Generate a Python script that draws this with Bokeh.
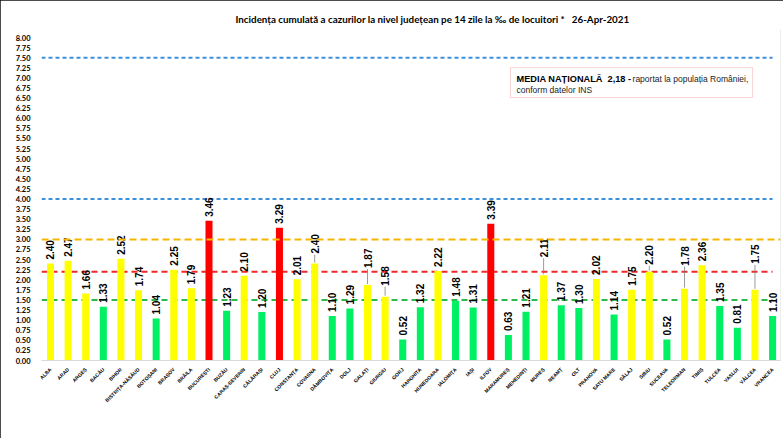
import math
from bokeh.plotting import figure
from bokeh.models import Range1d, FixedTicker, Span, BoxAnnotation, Label, ColumnDataSource, Title, InlineStyleSheet
from bokeh.core.properties import value
from bokeh.embed import file_html
from bokeh.resources import INLINE

counties = ["ALBA", "ARAD", "ARGEȘ", "BACĂU", "BIHOR", "BISTRIȚA-NĂSĂUD", "BOTOȘANI", "BRAȘOV",
            "BRĂILA", "BUCUREȘTI", "BUZĂU", "CARAȘ-SEVERIN", "CĂLĂRAȘI", "CLUJ", "CONSTANȚA",
            "COVASNA", "DÂMBOVIȚA", "DOLJ", "GALAȚI", "GIURGIU", "GORJ", "HARGHITA", "HUNEDOARA",
            "IALOMIȚA", "IAȘI", "ILFOV", "MARAMUREȘ", "MEHEDINȚI", "MUREȘ", "NEAMȚ", "OLT",
            "PRAHOVA", "SATU MARE", "SĂLAJ", "SIBIU", "SUCEAVA", "TELEORMAN", "TIMIȘ", "TULCEA",
            "VASLUI", "VÂLCEA", "VRANCEA"]
incidence = [2.40, 2.47, 1.66, 1.33, 2.52, 1.74, 1.04, 2.25, 1.79, 3.46, 1.23, 2.10, 1.20, 3.29,
             2.01, 2.40, 1.10, 1.29, 1.87, 1.58, 0.52, 1.32, 2.22, 1.48, 1.31, 3.39, 0.63, 1.21,
             2.11, 1.37, 1.30, 2.02, 1.14, 1.75, 2.20, 0.52, 1.78, 2.36, 1.35, 0.81, 1.75, 1.10]
thresholds_blue = [7.5, 4.0]
threshold_orange = 3.0
threshold_red = 2.2
threshold_green = 1.5
media_nationala = "2,18"
y_ticks = [i * 0.25 for i in range(33)]

# label lift (px) for labels drawn with a leader line
leader_lift = {"COVASNA": 10, "GALAȚI": 17, "GIURGIU": 11, "MUREȘ": 18, "SIBIU": 7,
               "TELEORMAN": 23, "VÂLCEA": 26}

RED, YELLOW, GREEN = "#FF0000", "#FFFF00", "#00F064"
def bar_color(v):
    if v > threshold_orange:
        return RED
    if v >= threshold_green:
        return YELLOW
    return GREEN

W, H = 783, 438
TOP, BOTTOM = 29, 78
p = figure(width=W, height=H, output_backend="svg", toolbar_location=None,
           x_range=Range1d(-0.511, 41.45), y_range=Range1d(0, 8.2),
           min_border_left=41, min_border_right=3, min_border_top=TOP, min_border_bottom=BOTTOM)
p.outline_line_color = None
p.grid.visible = False
p.background_fill_color = "white"

PX_PER_UNIT = (H - BOTTOM - TOP) / 8.2

xs = list(range(len(counties)))
src = ColumnDataSource(dict(x=xs, top=incidence, color=[bar_color(v) for v in incidence],
                            txt=["%.2f" % v for v in incidence],
                            ly=[v + (leader_lift.get(c, 4)) / PX_PER_UNIT for c, v in zip(counties, incidence)]))

# threshold lines
for t in thresholds_blue:
    p.segment(x0=-0.511, x1=41.0, y0=t, y1=t, line_color="#3C8FDC", line_width=2, line_dash="4 3")
p.add_layout(Span(location=threshold_orange, dimension="width", line_color="#F7B500", line_width=2, line_dash="7 4"))
p.segment(x0=-0.511, x1=41.0, y0=threshold_red, y1=threshold_red, line_color="#F02828", line_width=2, line_dash="6 4")
p.segment(x0=-0.511, x1=41.0, y0=threshold_green, y1=threshold_green, line_color="#2DB84E", line_width=2, line_dash="6 4")

p.vbar(x="x", top="top", bottom=0, width=0.4, fill_color="color", line_color=None, source=src)

# leader lines
lx, ly0, ly1 = [], [], []
for i, (c, v) in enumerate(zip(counties, incidence)):
    if c in leader_lift:
        lx.append(i)
        ly0.append(v + 1.0 / PX_PER_UNIT)
        ly1.append(v + (leader_lift[c] - 1) / PX_PER_UNIT)
p.segment(x0=lx, x1=lx, y0=ly0, y1=ly1, line_color="#808080", line_width=0.8)

p.text(x="x", y="ly", text="txt", source=src, angle=math.pi / 2, text_align="left",
       text_baseline="middle", text_font=value("Liberation Sans"), text_font_size="10px",
       text_font_style="bold", text_color="black")

# axes
p.yaxis.ticker = FixedTicker(ticks=y_ticks)
p.yaxis.major_label_overrides = {t: "%.2f" % t for t in y_ticks}
p.yaxis.axis_line_color = None
p.yaxis.major_tick_line_color = None
p.yaxis.minor_tick_line_color = None
p.yaxis.major_label_text_font = "Lato"
p.yaxis.major_label_text_font_style = "bold"
p.yaxis.major_label_text_font_size = "7.5px"
p.yaxis.major_label_text_color = "black"
p.yaxis.major_label_standoff = 5

p.xaxis.ticker = FixedTicker(ticks=xs)
p.xaxis.major_label_overrides = {i: c for i, c in enumerate(counties)}
p.xaxis.major_label_orientation = math.pi / 4
p.xaxis.axis_line_color = "#D9D9D9"
p.xaxis.major_tick_line_color = None
p.xaxis.minor_tick_line_color = None
p.xaxis.major_label_text_font = "Liberation Sans"
p.xaxis.major_label_text_font_style = "bold"
p.xaxis.major_label_text_font_size = "5px"
p.xaxis.major_label_text_color = "black"
p.xaxis.major_label_standoff = 2

p.title = Title(text="Incidența cumulată a cazurilor la nivel județean pe 14 zile la ‰ de locuitori *\u00a0\u00a0 26-Apr-2021",
                align="left", offset=194, text_font="Lato", text_font_style="bold",
                text_font_size="9.8px", standoff=9, text_color="black")

# image frame (left, top and right edges)
p.add_layout(BoxAnnotation(left=1.5, right=780.5, top=2.5, bottom=470,
                           left_units="canvas", right_units="canvas", top_units="canvas", bottom_units="canvas",
                           fill_alpha=0, line_color="#111111", line_width=1, level="overlay"))
p.stylesheets = [InlineStyleSheet(css=".bk-Canvas, :host { box-shadow: inset 1px 1px 0 #111, inset -2px 0 0 #111; }")]

# national average box
p.add_layout(BoxAnnotation(left=26.12, right=39.86, top=7.257, bottom=6.514,
                           fill_color="white", fill_alpha=1, line_color="#F07070", line_width=1))
p.add_layout(Label(x=26.46, y=6.985, text="MEDIA NAȚIONALĂ\u00a0 " + media_nationala + " -",
                   text_font="Liberation Sans", text_font_style="bold", text_font_size="9.2px",
                   text_baseline="middle", text_color="black"))
p.add_layout(Label(x=33.05, y=6.985, text="raportat la populația României,",
                   text_font="Liberation Sans", text_font_size="8.5px",
                   text_baseline="middle", text_color="#222222"))
p.add_layout(Label(x=26.46, y=6.69, text="conform datelor INS",
                   text_font="Liberation Sans", text_font_size="8.5px",
                   text_baseline="middle", text_color="#222222"))

open("out.html", "w").write(file_html(p, INLINE))
